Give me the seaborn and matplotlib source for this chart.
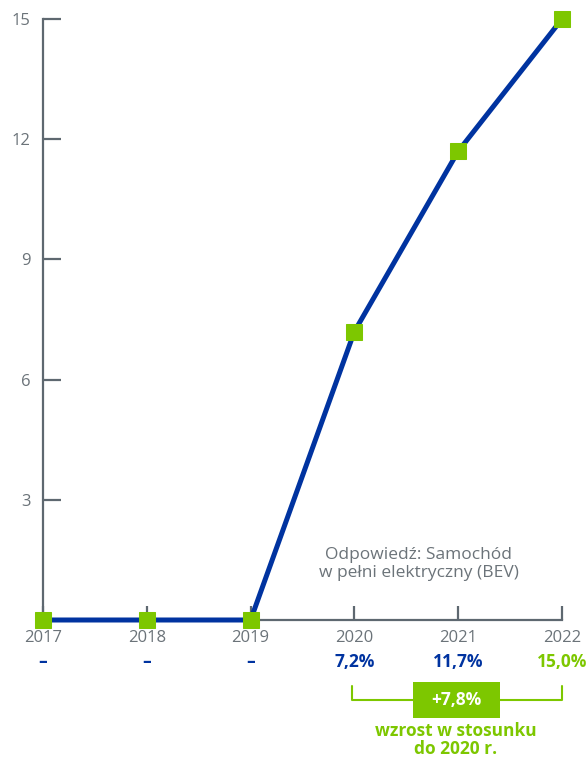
import matplotlib
matplotlib.use("Agg")
import matplotlib.pyplot as plt
import seaborn as sns
import pandas as pd
from matplotlib.patches import Rectangle

years = [2017, 2018, 2019, 2020, 2021, 2022]
bev_share = [0.0, 0.0, 0.0, 7.2, 11.7, 15.0]
value_labels = ["–", "–", "–", "7,2%", "11,7%", "15,0%"]
y_ticks = [3, 6, 9, 12, 15]
growth_label = "+7,8%"
note = "Odpowiedź: Samochód\nw pełni elektryczny (BEV)"
growth_caption = "wzrost w stosunku\ndo 2020 r."

BLUE = "#0033A0"
GREEN = "#7DC700"
GREY = "#5E6870"
TEXT_GREY = "#6B7379"

sns.set_theme(style="white")
plt.rcParams["font.family"] = ["Open Sans", "DejaVu Sans"]

df = pd.DataFrame({"year": years, "share": bev_share})

fig = plt.figure(figsize=(5.87, 7.60), dpi=100)
ax = fig.add_axes([43 / 587, 1 - 620 / 760, (562 - 43) / 587, (620 - 19) / 760])

sns.lineplot(data=df, x="year", y="share", ax=ax, color=BLUE, linewidth=3.6,
             marker="s", markersize=12, markerfacecolor=GREEN,
             markeredgecolor=GREEN, clip_on=False, zorder=5)

ax.set_xlim(2017, 2022)
ax.set_ylim(0, 15)
ax.set_xticks(years)
ax.set_xticklabels([str(y) for y in years])
ax.set_yticks(y_ticks)
ax.set_yticklabels([str(t) for t in y_ticks])
ax.set_xlabel("")
ax.set_ylabel("")

for side in ["top", "right"]:
    ax.spines[side].set_visible(False)
for side in ["left", "bottom"]:
    ax.spines[side].set_color(GREY)
    ax.spines[side].set_linewidth(1.6)

ax.tick_params(axis="both", direction="in", color=GREY, width=1.6,
               labelcolor=TEXT_GREY, labelsize=12, bottom=True, left=True)
ax.tick_params(axis="x", length=10, pad=7)
ax.tick_params(axis="y", length=13, pad=9)

# value labels under the year ticks
for i, (yr, lab) in enumerate(zip(years, value_labels)):
    col = GREEN if i == len(years) - 1 else BLUE
    ax.annotate(lab, xy=(yr, 0), xycoords="data", xytext=(0, -30),
                textcoords="offset points", ha="center", va="center",
                fontsize=12.5, fontweight="bold", color=col,
                annotation_clip=False)

# note above the axis
ax.text(0.724, 0.093, note, transform=ax.transAxes, ha="center", va="center",
        fontsize=12.5, color=TEXT_GREY, linespacing=1.2)

# growth bracket from 2020 to 2022
def px(x, y):
    return fig.transFigure.inverted().transform((x, 760 - y))

x0, _ = px(352, 0)
x1, _ = px(562, 0)
_, ytop = px(0, 686)
_, ybot = px(0, 700)
fig.add_artist(plt.Line2D([x0, x0, x1, x1], [ytop, ybot, ybot, ytop],
                          color=GREEN, linewidth=1.5, transform=fig.transFigure))
bx0, by0 = px(413, 718)
bx1, by1 = px(500, 682)
fig.add_artist(Rectangle((bx0, by0), bx1 - bx0, by1 - by0, facecolor=GREEN,
                         edgecolor="none", transform=fig.transFigure, zorder=3))
cx, cy = px(456.5, 700)
fig.text(cx, cy, growth_label, ha="center", va="center", color="white",
         fontsize=12.5, fontweight="bold", zorder=4)
tx, ty = px(456, 740)
fig.text(tx, ty, growth_caption, ha="center", va="center", color=GREEN,
         fontsize=12.5, fontweight="bold", linespacing=1.05)

fig.savefig("out.png", dpi=100)
